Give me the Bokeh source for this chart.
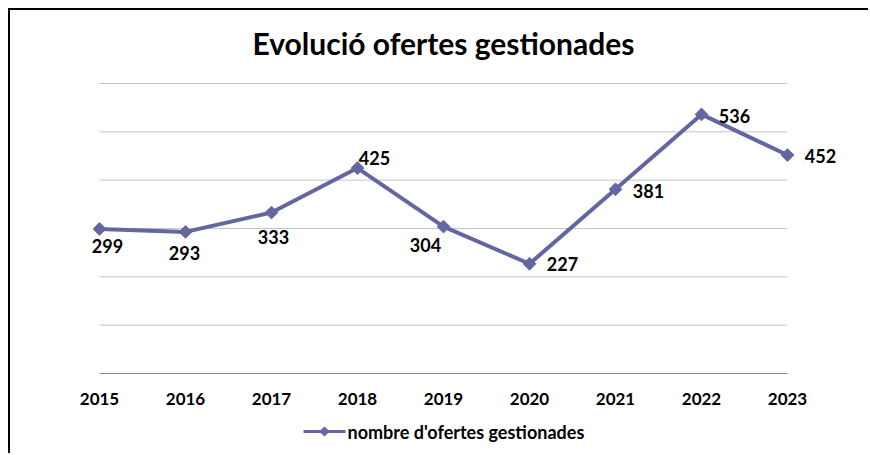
import numpy as np
from bokeh.plotting import figure
from bokeh.models import ColumnDataSource, Range1d
from bokeh.core.properties import value
from bokeh.embed import file_html
from bokeh.resources import INLINE

# ---- data ----
years = [2015, 2016, 2017, 2018, 2019, 2020, 2021, 2022, 2023]
ofertes = [299, 293, 333, 425, 304, 227, 381, 536, 452]
y_ticks = [0, 100, 200, 300, 400, 500, 600]
title_text = "Evolució ofertes gestionades"
series_name = "nombre d'ofertes gestionades"

# ---- layout (page pixels) ----
W, H = 860, 445            # canvas size
CX0, CY0 = 10, 10          # canvas top-left on page (after 8px margin + 2px border)
PX_LEFT, PX_RIGHT = 99, 787    # pixel position of first / last category
PX_TOP, PX_BOTTOM = 83, 373    # pixel position of top / bottom value

# label placement (screen px, relative to point; +dy = down)
lab_dx = [8, -1, 2, 17, -18, 33, 33, 33, 33]
lab_dy = [17, 21, 24, -10, 18, 0, 2, 2, 1]

FONT = "Lato"
COLOR = "#6366A0"

xs = (years[-1] - years[0]) / (PX_RIGHT - PX_LEFT)       # data per px
ys = (y_ticks[-1] - y_ticks[0]) / (PX_BOTTOM - PX_TOP)


def px_x(px):
    return years[0] + (px - PX_LEFT) * xs


def px_y(py):
    return y_ticks[0] + (PX_BOTTOM - py) * ys


p = figure(width=W, height=H, output_backend="svg", toolbar_location=None,
           x_range=Range1d(px_x(CX0), px_x(CX0 + W)),
           y_range=Range1d(px_y(CY0 + H), px_y(CY0)),
           x_axis_type=None, y_axis_type=None,
           min_border=0, tools="", title=None)
p.styles = {"border-top": "2px solid black", "border-left": "2px solid black",
            "margin-left": "8px", "margin-top": "8px"}
p.outline_line_color = None
p.background_fill_color = "white"
p.border_fill_color = "white"
p.grid.visible = False

# horizontal gridlines spanning the category extent
gsrc = ColumnDataSource(dict(y=y_ticks, x0=[years[0]] * len(y_ticks), x1=[years[-1]] * len(y_ticks),
                             c=["#888888" if t == y_ticks[0] else "#c4c4c4" for t in y_ticks]))
p.segment(x0="x0", x1="x1", y0="y", y1="y", source=gsrc, line_color="c", line_width=1)

# category (year) labels
ysrc = ColumnDataSource(dict(x=years, y=[y_ticks[0]] * len(years), t=[str(v) for v in years]))
p.text("x", "y", text="t", source=ysrc, y_offset=25, text_align="center", text_baseline="middle",
       text_font=value(FONT), text_font_size="17px", text_font_style="bold", text_color="black")

# series
src = ColumnDataSource(dict(x=years, y=ofertes, lab=[str(v) for v in ofertes],
                            dx=lab_dx, dy=lab_dy))
p.line("x", "y", source=src, line_color=COLOR, line_width=4)
p.scatter("x", "y", source=src, marker="square", angle=np.pi / 4, size=9,
          fill_color=COLOR, line_color=COLOR)
p.text("x", "y", text="lab", source=src, x_offset="dx", y_offset="dy",
       text_align="center", text_baseline="middle", text_font=value(FONT),
       text_font_size="18px", text_font_style="bold", text_color="black")

# title
p.text(x=[(years[0] + years[-1]) / 2], y=[px_y(42)], text=[title_text],
       text_align="center", text_baseline="middle", text_font=value(FONT),
       text_font_size="30px", text_font_style="bold", text_color="black")

# legend
LEG_Y = 431
p.line(x=[px_x(303), px_x(345)], y=[px_y(LEG_Y)] * 2, line_color=COLOR, line_width=3)
p.scatter(x=[px_x(324)], y=[px_y(LEG_Y)], marker="square", angle=np.pi / 4, size=6.5,
          fill_color=COLOR, line_color=COLOR)
p.text(x=[px_x(347)], y=[px_y(LEG_Y)], text=[series_name], text_align="left",
       text_baseline="middle", text_font=value(FONT), text_font_size="18px",
       text_font_style="bold", text_color="black")

open("out.html", "w").write(file_html(p, INLINE))
